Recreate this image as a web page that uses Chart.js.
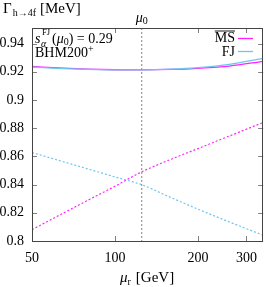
<!DOCTYPE html>
<html>
<head>
<meta charset="utf-8">
<script src="https://cdn.jsdelivr.net/npm/chart.js@4"></script>
<style>
  html, body { margin: 0; padding: 0; background: #fff; }
  #c { display: block; }
</style>
</head>
<body>
<canvas id="c" width="266" height="287"></canvas>
<script>
// renormalization scale values (GeV)
const muValues = [50, 65, 80, 100, 125, 160, 200, 260, 345];
// NLO widths (solid)
const msNLO = [0.9237, 0.9225, 0.9218, 0.9214, 0.9213, 0.9216, 0.9224, 0.9240, 0.9274];
const fjNLO = [0.9232, 0.9222, 0.9216, 0.9213, 0.9213, 0.9218, 0.9229, 0.9252, 0.9295];
// LO widths (dotted)
const msLO = [0.808, 0.8198, 0.829, 0.8388, 0.849, 0.858, 0.8655, 0.8744, 0.884];
const fjLO = [0.8627, 0.8562, 0.851, 0.8454, 0.8399, 0.8307, 0.8226, 0.8135, 0.8041];

const xTicks = [50, 100, 200, 300];
const yTicks = [0.8, 0.82, 0.84, 0.86, 0.88, 0.9, 0.92, 0.94];
const mu0 = 125;

const MAGENTA = '#ff22ff';
const BLUE = '#6cc6f2';
const FONT = '"Liberation Serif", "DejaVu Serif", serif';

function pts(ys) {
    return muValues.map((m, i) => ({ x: m, y: ys[i] }));
}

// draw a run of text pieces one after the other: [text, font, dy, dx]
function textRun(ctx, x, y, pieces) {
    pieces.forEach(p => {
        ctx.font = p[1] + ' ' + FONT;
        ctx.fillText(p[0], x + (p[3] || 0), y + (p[2] || 0));
        x += ctx.measureText(p[0]).width + (p[3] || 0);
    });
    return x;
}

// frame, inward ticks, mu0 line, texts
const decorations = {
    id: 'decorations',
    afterDatasetsDraw(chart) {
        const ctx = chart.ctx;
        const a = chart.chartArea;
        const xs = chart.scales.x, ys = chart.scales.y;
        ctx.save();

        // mu0 vertical dotted line
        const xm = xs.getPixelForValue(mu0);
        ctx.strokeStyle = '#a0a0a0';
        ctx.lineWidth = 1.3;
        ctx.setLineDash([2, 2]);
        ctx.beginPath();
        ctx.moveTo(xm, a.top);
        ctx.lineTo(xm, a.bottom);
        ctx.stroke();
        ctx.setLineDash([]);

        // ticks
        ctx.strokeStyle = '#808080';
        ctx.lineWidth = 1;
        ctx.beginPath();
        xTicks.forEach(v => {
            const px = Math.round(xs.getPixelForValue(v)) + 0.5;
            ctx.moveTo(px, a.bottom); ctx.lineTo(px, a.bottom - 5);
            ctx.moveTo(px, a.top); ctx.lineTo(px, a.top + 5);
        });
        yTicks.forEach(v => {
            const py = Math.round(ys.getPixelForValue(v)) + 0.5;
            ctx.moveTo(a.left, py); ctx.lineTo(a.left + 5, py);
            ctx.moveTo(a.right, py); ctx.lineTo(a.right - 5, py);
        });
        ctx.stroke();

        // frame
        ctx.strokeStyle = '#444';
        ctx.lineWidth = 1;
        ctx.strokeRect(Math.round(a.left) + 0.5, Math.round(a.top) + 0.5,
            Math.round(a.right - a.left) - 1, Math.round(a.bottom - a.top));

        ctx.fillStyle = '#000';
        ctx.textBaseline = 'alphabetic';
        ctx.textAlign = 'left';

        // y title
        textRun(ctx, 3, 13, [
            ['\u0393', '15px'],
            ['h\u21924f', '10px', 3, 1],
            ['[MeV]', '15px', 0, 4]
        ]);

        // mu0 label
        textRun(ctx, xm - 6, 22, [
            ['\u03bc', 'italic 14px'],
            ['0', '10px', 2]
        ]);

        // annotation
        ctx.font = 'italic 14px ' + FONT;
        ctx.fillText('s', 35, 43);
        ctx.font = '8.5px ' + FONT;
        ctx.fillText('FJ', 42, 35);
        ctx.font = 'italic 10px ' + FONT;
        ctx.fillText('\u03b1', 41, 47);
        textRun(ctx, 52, 43, [
            ['(', '14px'],
            ['\u03bc', 'italic 14px'],
            ['0', '10px', 2],
            [') = 0.29', '14px']
        ]);
        textRun(ctx, 35, 57, [
            ['BHM200', '14px'],
            ['+', '10px', -5]
        ]);

        // legend
        ctx.font = '14px ' + FONT;
        ctx.textAlign = 'right';
        ctx.fillText('MS', 235, 42);
        const w = ctx.measureText('MS').width;
        ctx.lineWidth = 0.9;
        ctx.strokeStyle = '#000';
        ctx.beginPath();
        ctx.moveTo(235 - w, 31); ctx.lineTo(235, 31);
        ctx.stroke();
        ctx.fillText('FJ', 235, 56);
        ctx.lineWidth = 1.3;
        ctx.strokeStyle = MAGENTA;
        ctx.beginPath(); ctx.moveTo(238, 38.5); ctx.lineTo(253, 38.5); ctx.stroke();
        ctx.strokeStyle = BLUE;
        ctx.beginPath(); ctx.moveTo(238, 51.5); ctx.lineTo(253, 51.5); ctx.stroke();

        // x title
        ctx.textAlign = 'left';
        textRun(ctx, 120, 282, [
            ['\u03bc', 'italic 15px'],
            ['r', '10px', 3],
            ['[GeV]', '15px', 0, 5]
        ]);

        ctx.restore();
    }
};

const ctx = document.getElementById('c').getContext('2d');
const chart = new Chart(ctx, {
    type: 'line',
    data: {
        datasets: [
            { data: pts(msLO), borderColor: MAGENTA, borderWidth: 1.2, borderDash: [2, 2] },
            { data: pts(fjLO), borderColor: BLUE, borderWidth: 1.2, borderDash: [2, 2] },
            { data: pts(fjNLO), borderColor: BLUE, borderWidth: 1.3 },
            { data: pts(msNLO), borderColor: MAGENTA, borderWidth: 1.3 }
        ]
    },
    options: {
        responsive: false,
        animation: false,
        elements: {
            point: { radius: 0 },
            line: { tension: 0.4, cubicInterpolationMode: 'monotone', fill: false }
        },
        layout: { padding: { top: 28, right: 0.5, left: 0, bottom: 0 } },
        plugins: { legend: { display: false }, tooltip: { enabled: false } },
        scales: {
            x: {
                type: 'logarithmic',
                min: 50,
                max: 345,
                grid: { display: false, drawTicks: false },
                border: { display: false },
                afterBuildTicks: s => { s.ticks = xTicks.map(v => ({ value: v })); },
                afterFit: s => { s.height = 46; },
                ticks: {
                    color: '#000',
                    padding: 9,
                    maxRotation: 0,
                    autoSkip: false,
                    font: { family: FONT, size: 14 },
                    callback: v => String(v)
                }
            },
            y: {
                min: 0.8,
                max: 0.951,
                grid: { display: false, drawTicks: false },
                border: { display: false },
                afterBuildTicks: s => { s.ticks = yTicks.map(v => ({ value: v })); },
                afterFit: s => { s.width = 32; },
                ticks: {
                    color: '#000',
                    padding: 8,
                    autoSkip: false,
                    font: { family: FONT, size: 14 },
                    callback: v => String(Number(v.toFixed(2)))
                }
            }
        }
    },
    plugins: [decorations]
});
</script>
</body>
</html>
